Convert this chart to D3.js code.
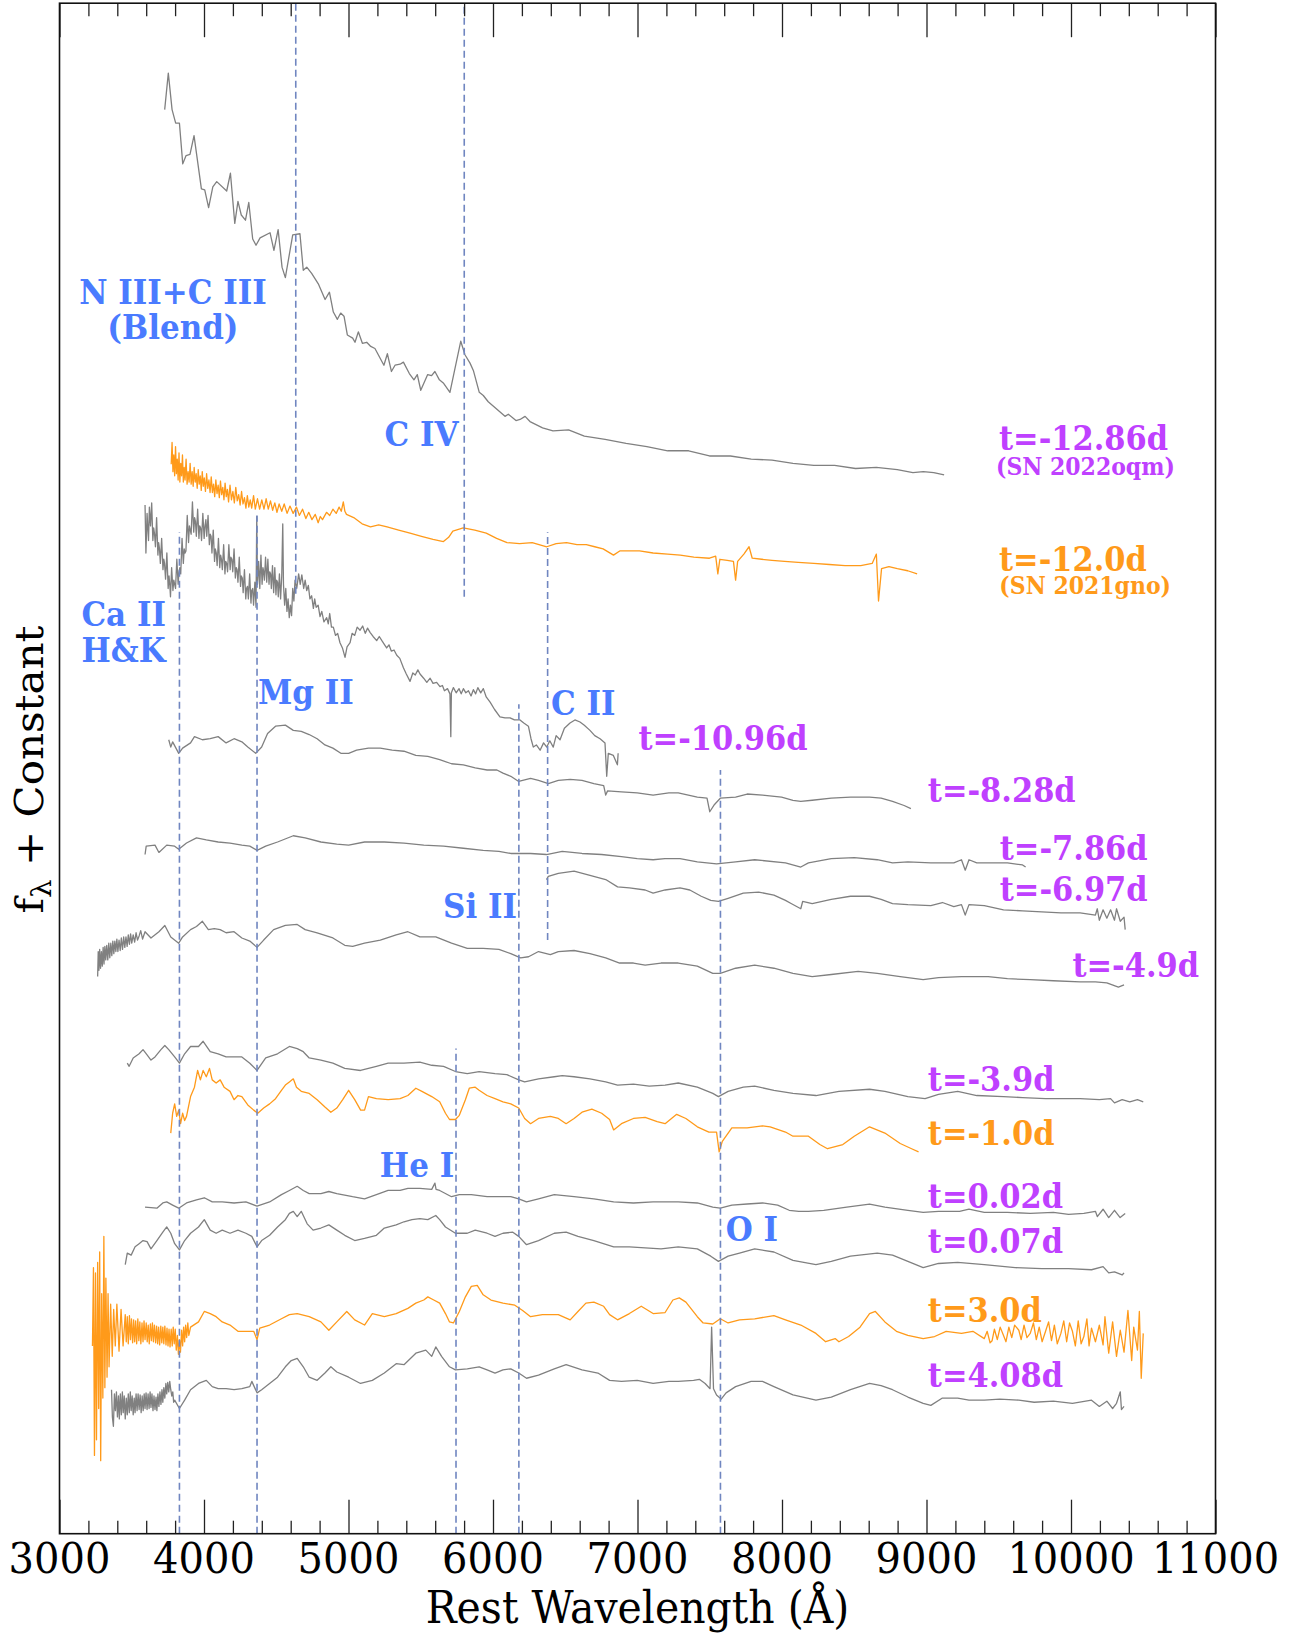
<!DOCTYPE html>
<html><head><meta charset="utf-8">
<script src="https://cdn.jsdelivr.net/npm/d3@7"></script>
<style>body{margin:0;background:#fff}svg{display:block}</style>
</head><body>
<script>
// ---------------- DATA (wavelength in Å, flux + constant in arbitrary units) ----------------
const majorTicks = [3000,4000,5000,6000,7000,8000,9000,10000,11000];
const minorTicks = [3200,3400,3600,3800,4200,4400,4600,4800,5200,5400,5600,5800,6200,6400,6600,6800,7200,7400,7600,7800,8200,8400,8600,8800,9200,9400,9600,9800,10200,10400,10600,10800];

const spec_m1286 = [[3728,136.5],[3753,140.0],[3779,136.5],[3804,135.2],[3830,135.2],[3853,131.3],[3876,132.1],[3903,132.2],[3931,134.0],[3982,128.9],[4005,128.8],[4032,127.1],[4061,129.1],[4088,129.6],[4157,128.7],[4183,130.4],[4213,125.6],[4235,127.7],[4258,126.4],[4287,125.9],[4310,127.6],[4337,124.1],[4360,123.5],[4388,124.2],[4457,124.7],[4484,123.0],[4513,125.0],[4540,121.4],[4563,120.4],[4614,124.5],[4664,124.6],[4687,121.1],[4711,121.4],[4745,120.8],[4791,119.8],[4838,118.3],[4868,119.0],[4895,117.1],[4923,116.4],[4946,117.0],[4969,116.7],[4992,114.9],[5029,114.6],[5045,114.2],[5068,115.2],[5096,114.1],[5126,114.2],[5154,113.8],[5183,113.6],[5245,112.0],[5269,113.1],[5297,111.4],[5322,112.0],[5357,112.1],[5380,112.3],[5421,111.2],[5453,110.6],[5476,111.1],[5500,109.6],[5548,111.1],[5575,111.0],[5598,111.4],[5629,110.6],[5656,110.3],[5702,109.4],[5737,111.7],[5777,114.3],[5806,113.0],[5841,112.2],[5864,111.5],[5905,109.4],[5933,109.1],[5967,108.5],[6025,107.8],[6083,107.1],[6106,107.3],[6159,106.7],[6187,106.8],[6222,107.1],[6256,106.6],[6343,106.0],[6415,105.7],[6523,105.8],[6632,105.2],[6776,104.9],[6921,104.5],[7065,104.2],[7209,103.8],[7354,103.8],[7498,103.3],[7643,103.3],[7787,103.0],[7931,102.9],[8076,102.6],[8220,102.4],[8364,102.4],[8509,102.1],[8653,102.2],[8798,102.0],[8906,101.7],[8978,101.8],[9050,101.7],[9122,101.5]];

const spec_m120 = [[3773,102.5],[3779,104.6],[3785,101.8],[3791,103.4],[3797,101.4],[3803,104.2],[3809,101.6],[3815,103.0],[3821,101.0],[3827,103.6],[3833,100.8],[3839,102.6],[3845,101.4],[3851,103.4],[3857,100.8],[3863,102.2],[3869,101.0],[3876,103.0],[3883,100.6],[3890,101.8],[3897,100.8],[3904,102.6],[3911,100.6],[3918,101.8],[3925,100.4],[3932,102.2],[3939,100.8],[3946,101.6],[3953,100.2],[3960,102.0],[3967,100.6],[3974,101.4],[3981,100.0],[3988,101.8],[3995,100.4],[4002,101.2],[4010,99.9],[4018,101.6],[4026,100.2],[4034,101.0],[4042,99.8],[4050,101.3],[4058,99.8],[4066,100.6],[4074,99.4],[4082,101.0],[4090,99.7],[4098,100.5],[4106,99.3],[4114,100.9],[4122,99.6],[4130,100.3],[4138,99.1],[4146,100.7],[4154,99.4],[4162,100.1],[4170,98.9],[4180,100.5],[4190,99.1],[4200,99.9],[4210,98.8],[4220,100.3],[4230,99.0],[4240,99.6],[4250,98.6],[4260,99.9],[4270,98.7],[4280,99.3],[4290,98.3],[4300,99.5],[4310,98.4],[4320,99.1],[4330,98.3],[4343,99.5],[4355,98.2],[4370,99.2],[4385,98.2],[4400,99.1],[4415,98.2],[4430,99.2],[4445,98.2],[4460,99.0],[4475,98.1],[4490,98.8],[4505,97.9],[4520,98.7],[4538,98.0],[4555,98.7],[4575,97.8],[4595,98.5],[4617,97.8],[4640,98.4],[4660,97.6],[4682,98.2],[4705,97.3],[4725,97.9],[4747,97.2],[4770,97.7],[4790,96.9],[4805,97.5],[4820,97.2],[4848,97.9],[4870,97.6],[4892,98.2],[4915,97.8],[4935,98.4],[4950,98.0],[4964,98.9],[4975,98.0],[4986,97.7],[5036,97.4],[5094,96.8],[5152,96.5],[5209,96.7],[5267,96.5],[5347,96.2],[5426,95.9],[5505,95.6],[5585,95.3],[5657,95.1],[5693,95.5],[5722,96.1],[5794,96.4],[5874,96.2],[5953,95.9],[6025,95.4],[6097,95.0],[6184,94.9],[6271,95.0],[6372,94.6],[6437,94.9],[6509,95.0],[6581,94.8],[6646,94.8],[6704,94.6],[6762,94.4],[6834,93.8],[6877,94.2],[6942,94.2],[7014,94.2],[7108,94.0],[7209,93.9],[7296,93.8],[7390,93.6],[7498,93.5],[7541,93.7],[7556,92.0],[7570,93.4],[7621,93.3],[7664,93.2],[7679,91.4],[7693,93.2],[7736,93.9],[7772,94.6],[7794,93.5],[7859,93.4],[7931,93.3],[8018,93.2],[8112,93.1],[8220,93.0],[8328,92.9],[8437,92.8],[8545,92.8],[8624,93.0],[8653,93.9],[8668,89.4],[8689,92.5],[8740,92.7],[8798,92.5],[8870,92.3],[8935,92.0]];

const spec_m1096 = [[3592,98.6],[3598,94.0],[3606,97.8],[3611,96.4],[3616,95.2],[3622,98.4],[3630,96.6],[3638,98.8],[3646,95.2],[3652,96.4],[3658,95.8],[3664,94.6],[3672,97.4],[3681,93.8],[3686,95.0],[3692,94.4],[3698,93.0],[3707,95.4],[3716,92.4],[3722,93.4],[3727,93.0],[3734,91.5],[3743,94.0],[3752,90.6],[3758,91.8],[3764,90.8],[3768,89.8],[3776,92.6],[3785,90.4],[3791,91.4],[3797,91.0],[3803,90.6],[3812,93.4],[3821,91.0],[3827,92.2],[3833,92.6],[3839,92.0],[3848,95.4],[3857,93.0],[3863,94.4],[3869,94.0],[3875,94.2],[3884,97.6],[3893,95.0],[3899,96.6],[3905,96.2],[3911,95.8],[3920,98.9],[3929,96.0],[3935,97.4],[3941,97.0],[3947,95.6],[3956,98.2],[3965,95.4],[3970,96.6],[3977,96.4],[3983,95.2],[3992,97.8],[4001,95.4],[4007,96.6],[4013,97.2],[4019,95.6],[4028,97.6],[4037,94.8],[4043,95.8],[4049,95.6],[4055,94.0],[4064,96.2],[4073,93.2],[4078,94.4],[4085,94.0],[4091,92.8],[4100,95.4],[4109,92.6],[4115,93.8],[4121,93.4],[4127,92.4],[4136,94.8],[4145,92.0],[4150,93.2],[4157,93.0],[4163,92.2],[4172,94.8],[4181,92.4],[4186,93.6],[4193,93.4],[4199,92.2],[4208,94.4],[4217,91.6],[4223,92.6],[4229,92.4],[4235,91.2],[4244,93.6],[4253,90.8],[4258,91.8],[4265,91.6],[4271,90.2],[4280,92.4],[4289,89.6],[4294,90.6],[4301,90.8],[4307,89.6],[4316,92.0],[4325,89.2],[4330,90.4],[4337,90.6],[4343,89.0],[4352,91.2],[4360,88.8],[4365,97.5],[4370,91.0],[4378,93.2],[4386,90.6],[4394,93.8],[4402,91.0],[4408,92.6],[4413,92.2],[4418,91.4],[4426,93.6],[4434,91.2],[4442,93.4],[4450,91.0],[4455,92.2],[4461,92.0],[4466,90.6],[4474,92.8],[4482,90.2],[4490,92.6],[4498,90.0],[4503,91.4],[4509,91.2],[4514,89.8],[4522,92.0],[4530,89.6],[4538,91.8],[4545,96.8],[4550,91.0],[4558,89.0],[4566,90.6],[4574,88.4],[4582,89.6],[4590,87.8],[4598,89.0],[4606,88.0],[4614,90.6],[4622,89.4],[4630,91.4],[4642,90.6],[4655,92.0],[4666,91.0],[4677,91.9],[4690,90.6],[4700,91.4],[4711,90.4],[4722,90.9],[4733,89.6],[4745,89.9],[4757,88.7],[4766,89.6],[4776,88.8],[4790,89.0],[4803,87.9],[4815,88.4],[4830,87.4],[4849,87.8],[4860,87.2],[4870,88.2],[4882,86.9],[4895,86.9],[4910,86.1],[4925,86.3],[4941,85.4],[4958,84.9],[4976,84.0],[4990,85.0],[5011,85.4],[5025,86.3],[5043,86.1],[5060,86.9],[5080,86.6],[5098,87.0],[5116,86.3],[5132,86.8],[5149,86.4],[5170,86.0],[5195,85.6],[5213,86.0],[5231,85.6],[5250,85.2],[5264,84.9],[5280,85.2],[5296,84.6],[5315,84.7],[5334,84.2],[5355,83.9],[5380,83.0],[5400,82.4],[5426,81.7],[5445,82.5],[5462,82.3],[5480,82.8],[5495,82.4],[5520,82.0],[5542,81.6],[5565,82.0],[5585,81.5],[5610,81.6],[5633,81.2],[5650,81.3],[5664,80.8],[5685,81.0],[5702,80.5],[5708,76.4],[5712,80.6],[5726,81.1],[5745,80.6],[5765,81.0],[5780,80.5],[5795,81.0],[5812,80.6],[5830,80.8],[5848,80.3],[5864,80.9],[5880,80.5],[5895,81.1],[5915,80.6],[5933,81.0],[5953,80.2],[5980,79.7],[6011,79.0],[6048,78.3],[6083,78.2],[6118,78.2],[6148,78.0],[6187,78.0],[6213,77.7],[6245,77.4],[6263,76.2],[6279,75.4],[6300,75.6],[6326,75.1],[6350,75.8],[6372,75.4],[6393,76.0],[6417,75.4],[6437,76.5],[6464,76.1],[6494,77.2],[6533,77.7],[6567,78.0],[6602,77.8],[6632,77.5],[6671,77.0],[6704,76.5],[6741,76.2],[6775,75.8],[6787,72.6],[6798,74.8],[6833,74.6],[6861,73.7],[6866,74.8]];

const spec_m828 = [[3756,76.1],[3770,75.4],[3783,75.9],[3825,74.8],[3852,75.3],[3907,75.8],[3934,76.4],[3989,76.1],[4043,76.2],[4098,76.4],[4153,75.8],[4208,76.2],[4262,75.9],[4303,75.4],[4358,74.8],[4399,75.4],[4440,76.7],[4495,77.4],[4563,77.5],[4618,77.0],[4673,76.9],[4728,76.6],[4783,76.2],[4837,75.6],[4892,75.3],[4947,74.8],[5001,74.8],[5056,75.1],[5138,75.3],[5220,75.3],[5302,75.1],[5384,75.0],[5466,74.6],[5549,74.5],[5631,74.2],[5713,73.8],[5795,73.7],[5877,73.4],[5959,73.2],[6027,73.2],[6069,72.9],[6123,72.6],[6178,72.1],[6260,72.4],[6315,72.2],[6383,71.9],[6452,72.2],[6534,72.3],[6616,72.2],[6698,71.9],[6766,71.7],[6780,70.8],[6793,71.2],[6889,71.1],[6998,71.0],[7108,70.8],[7217,71.0],[7282,71.0],[7414,70.6],[7481,70.5],[7500,69.2],[7533,69.9],[7573,70.5],[7679,70.6],[7759,70.9],[7865,70.8],[7997,70.6],[8076,70.3],[8130,70.2],[8209,70.3],[8341,70.5],[8474,70.6],[8606,70.6],[8686,70.5],[8765,70.2],[8845,69.8],[8892,69.5]];

const spec_m786 = [[3592,65.1],[3600,65.9],[3661,66.0],[3688,65.3],[3742,66.0],[3797,65.9],[3825,65.6],[3879,66.2],[3948,66.7],[4016,66.5],[4098,66.3],[4180,66.2],[4262,66.0],[4317,65.9],[4367,65.5],[4427,65.9],[4509,66.3],[4618,66.9],[4700,66.7],[4809,66.3],[4919,66.1],[5001,66.0],[5111,66.3],[5248,66.3],[5384,66.2],[5521,66.0],[5658,65.9],[5795,65.7],[5932,65.5],[6041,65.4],[6123,65.2],[6178,65.2],[6260,65.2],[6370,65.1],[6479,65.4],[6616,65.2],[6752,65.1],[6889,64.9],[6998,64.7],[7108,64.6],[7190,64.7],[7294,64.7],[7414,64.4],[7547,64.2],[7679,64.4],[7811,64.6],[8024,64.3],[8130,63.9],[8183,64.3],[8341,64.7],[8500,64.8],[8659,64.6],[8765,64.3],[8871,64.4],[9030,64.3],[9189,64.3],[9242,64.6],[9268,63.6],[9294,64.6],[9348,64.3],[9454,64.3],[9560,64.3],[9665,64.1],[9686,63.9]];

const spec_m697 = [[6370,62.7],[6383,63.0],[6452,63.3],[6561,63.5],[6671,63.1],[6780,62.7],[6862,62.0],[6944,61.9],[7053,61.7],[7108,61.4],[7191,61.7],[7294,61.9],[7362,61.7],[7441,61.1],[7507,60.7],[7560,60.6],[7627,60.9],[7732,61.4],[7838,61.5],[7944,61.2],[8024,60.7],[8063,60.4],[8130,59.9],[8143,60.6],[8209,60.4],[8341,60.8],[8474,61.1],[8606,61.1],[8686,60.8],[8765,60.4],[8871,60.3],[9030,60.2],[9110,60.5],[9189,60.1],[9242,60.3],[9268,59.3],[9294,60.3],[9400,60.2],[9533,59.8],[9665,59.7],[9798,59.6],[9931,59.5],[10063,59.5],[10169,59.3],[10182,59.9],[10196,58.8],[10222,59.8],[10248,59.0],[10274,59.8],[10301,58.8],[10315,59.9],[10341,58.7],[10367,59.1],[10375,57.9]];

const spec_m49 = [[3264,53.4],[3268,55.8],[3273,54.0],[3278,56.0],[3284,54.2],[3290,55.8],[3296,54.4],[3302,56.2],[3308,54.6],[3314,56.3],[3320,55.0],[3327,56.4],[3334,55.0],[3341,56.6],[3348,55.2],[3355,56.6],[3362,55.4],[3369,56.8],[3376,55.6],[3383,56.8],[3390,55.8],[3397,57.0],[3404,55.8],[3412,56.9],[3420,55.9],[3428,57.1],[3436,56.0],[3444,57.2],[3452,56.2],[3460,57.2],[3468,56.3],[3476,57.4],[3484,56.5],[3492,57.5],[3500,56.6],[3510,57.4],[3520,56.7],[3530,57.6],[3540,56.9],[3551,57.3],[3562,57.8],[3575,57.0],[3592,57.7],[3633,57.1],[3688,57.7],[3729,58.3],[3770,57.2],[3825,56.6],[3852,57.2],[3907,57.9],[3948,58.2],[3989,58.7],[4030,57.9],[4071,58.0],[4112,57.9],[4153,57.6],[4208,57.7],[4262,57.1],[4317,56.8],[4367,56.2],[4413,56.9],[4482,57.9],[4563,58.3],[4645,58.4],[4700,57.9],[4783,57.6],[4892,57.1],[4974,56.4],[5029,56.3],[5111,56.6],[5220,56.9],[5330,57.4],[5411,57.7],[5494,57.2],[5604,57.2],[5713,56.6],[5822,56.1],[5932,56.1],[6041,56.0],[6123,55.6],[6191,55.2],[6246,55.3],[6315,55.8],[6397,55.5],[6452,55.8],[6561,55.9],[6671,55.6],[6780,55.2],[6876,54.7],[6972,54.7],[7053,54.5],[7163,54.7],[7282,54.7],[7414,54.4],[7521,53.7],[7573,53.7],[7679,54.2],[7811,54.5],[7944,54.2],[8076,53.7],[8209,53.4],[8341,53.6],[8527,53.9],[8659,53.7],[8818,53.4],[8977,53.1],[9083,53.3],[9242,53.4],[9427,53.4],[9560,53.2],[9718,53.1],[9878,53.0],[10063,52.9],[10169,52.9],[10248,52.8],[10328,52.4],[10367,52.6]];

const spec_m39 = [[3469,45.1],[3482,44.8],[3510,45.6],[3551,46.0],[3578,46.4],[3606,45.9],[3633,45.4],[3661,45.7],[3702,46.4],[3729,46.8],[3756,46.4],[3797,45.7],[3830,45.1],[3866,46.0],[3907,46.7],[3962,46.7],[3994,47.2],[4043,46.2],[4098,46.0],[4153,45.7],[4208,45.7],[4262,45.7],[4317,45.1],[4367,44.4],[4427,45.6],[4509,46.0],[4591,46.7],[4645,46.5],[4687,46.2],[4728,45.6],[4809,45.4],[4892,45.1],[4974,44.6],[5083,44.4],[5193,44.8],[5274,45.1],[5384,45.1],[5494,45.2],[5576,44.9],[5658,44.8],[5740,44.3],[5822,44.1],[5904,44.3],[6014,44.1],[6096,44.0],[6178,43.5],[6219,43.3],[6315,43.6],[6424,43.8],[6479,43.9],[6561,43.8],[6671,43.6],[6780,43.3],[6862,43.0],[6972,43.1],[7081,42.9],[7191,43.0],[7282,43.2],[7414,42.8],[7521,42.2],[7560,41.9],[7627,42.4],[7732,42.8],[7811,42.9],[7944,42.5],[8076,42.2],[8235,42.0],[8394,42.4],[8606,42.6],[8712,42.4],[8871,41.9],[8990,41.7],[9083,42.1],[9216,42.4],[9348,42.0],[9533,41.9],[9665,41.8],[9824,41.7],[9930,41.7],[10063,41.7],[10196,41.6],[10274,41.7],[10301,41.3],[10354,41.6],[10407,41.4],[10460,41.6],[10500,41.4]];

const spec_m10 = [[3770,38.4],[3783,40.3],[3797,41.2],[3811,40.0],[3825,40.6],[3838,39.3],[3852,40.3],[3866,39.6],[3879,40.0],[3907,41.9],[3934,42.8],[3956,44.4],[3975,43.5],[3994,44.4],[4016,43.8],[4038,44.6],[4057,43.5],[4084,43.2],[4112,43.5],[4139,42.8],[4180,42.4],[4208,41.6],[4235,42.0],[4262,41.9],[4303,41.1],[4344,40.6],[4372,40.3],[4413,40.8],[4454,41.2],[4495,41.7],[4536,42.5],[4563,43.0],[4591,43.3],[4618,43.6],[4640,42.8],[4673,42.4],[4728,42.2],[4783,41.6],[4837,40.9],[4878,40.4],[4919,40.8],[4960,41.6],[5001,42.5],[5043,41.6],[5084,40.6],[5111,40.6],[5138,41.9],[5193,41.7],[5274,41.6],[5357,41.7],[5411,42.0],[5466,42.7],[5508,42.4],[5576,41.9],[5631,41.4],[5671,40.3],[5699,39.7],[5740,39.7],[5767,40.1],[5809,41.6],[5836,42.7],[5877,42.8],[5904,42.5],[5959,42.0],[6014,41.7],[6069,41.4],[6123,41.2],[6178,40.8],[6219,39.8],[6260,39.3],[6315,39.8],[6397,40.0],[6452,39.8],[6506,39.3],[6561,39.8],[6616,40.4],[6684,40.7],[6752,40.3],[6807,39.7],[6835,38.7],[6889,39.3],[6972,39.8],[7053,39.9],[7136,39.5],[7191,39.3],[7271,40.2],[7335,39.8],[7414,39.0],[7494,38.5],[7547,38.5],[7565,36.6],[7587,37.6],[7653,38.9],[7759,38.9],[7865,39.1],[7918,39.0],[8024,38.5],[8076,38.1],[8183,38.1],[8262,37.3],[8315,36.9],[8421,37.3],[8500,38.1],[8606,39.0],[8712,38.4],[8818,37.4],[8897,36.9],[8945,36.6]];

const spec_p002 = [[3592,31.3],[3674,31.2],[3715,31.7],[3742,31.8],[3783,31.5],[3825,31.2],[3879,31.7],[3948,32.0],[4002,32.2],[4057,31.8],[4126,31.8],[4208,31.7],[4290,31.8],[4367,31.4],[4454,31.8],[4536,32.5],[4591,32.9],[4645,33.3],[4687,32.9],[4728,32.6],[4809,32.6],[4864,32.8],[4919,32.6],[5028,32.3],[5111,32.1],[5193,32.5],[5274,32.9],[5357,32.9],[5411,33.1],[5494,33.1],[5576,33.0],[5598,33.6],[5606,33.0],[5631,32.9],[5713,32.3],[5767,32.5],[5850,32.5],[5959,32.3],[6041,32.3],[6123,32.3],[6178,32.1],[6232,31.8],[6315,32.1],[6424,32.5],[6561,32.3],[6698,32.1],[6835,31.8],[6972,31.7],[7108,31.8],[7282,31.8],[7414,31.7],[7521,31.3],[7573,31.2],[7653,31.5],[7759,31.6],[7865,31.7],[7970,31.5],[8050,31.0],[8116,30.9],[8183,30.9],[8289,31.0],[8448,31.3],[8606,31.6],[8712,31.3],[8871,31.0],[8977,30.8],[9083,30.9],[9229,30.9],[9294,31.1],[9400,30.8],[9560,30.8],[9718,30.7],[9878,30.8],[9983,30.6],[10089,30.7],[10169,30.9],[10182,30.4],[10222,31.1],[10261,30.3],[10301,31.0],[10340,30.3],[10375,30.7]];

const spec_p007 = [[3455,25.8],[3469,26.9],[3496,26.7],[3523,27.5],[3551,27.8],[3578,28.1],[3606,28.0],[3633,27.3],[3674,28.1],[3715,28.9],[3742,29.4],[3770,28.8],[3797,27.8],[3830,27.2],[3866,28.1],[3907,28.8],[3962,29.4],[4002,30.1],[4043,29.1],[4084,28.8],[4126,29.1],[4180,28.8],[4235,29.1],[4290,28.8],[4331,28.5],[4367,27.5],[4399,28.1],[4454,28.6],[4509,29.4],[4563,30.1],[4591,30.7],[4618,30.9],[4645,30.4],[4673,30.9],[4714,29.7],[4755,29.1],[4809,29.3],[4864,29.6],[4919,29.1],[4974,28.6],[5043,28.1],[5111,28.3],[5193,28.6],[5248,29.3],[5330,29.6],[5384,29.9],[5439,30.1],[5494,30.2],[5549,30.1],[5604,30.5],[5631,30.1],[5671,29.4],[5740,28.8],[5822,28.8],[5877,29.1],[5959,28.8],[6014,28.5],[6069,28.8],[6137,28.9],[6178,28.5],[6232,27.7],[6315,28.1],[6424,28.8],[6506,28.9],[6588,28.5],[6698,28.1],[6835,27.5],[6944,27.5],[7053,27.4],[7163,27.3],[7282,27.5],[7414,27.3],[7507,26.6],[7560,26.1],[7627,26.6],[7706,26.9],[7811,27.3],[7944,27.0],[8076,26.2],[8235,25.8],[8341,26.1],[8474,26.6],[8659,26.9],[8765,26.7],[8871,26.1],[8977,25.5],[9083,25.9],[9216,26.0],[9400,25.8],[9614,25.5],[9798,25.4],[9983,25.4],[10142,25.3],[10222,25.6],[10261,25.0],[10301,25.1],[10354,24.8],[10367,25.0]];

const spec_p30 = [[3228,18.0],[3235,25.5],[3242,7.5],[3249,25.0],[3256,9.0],[3264,26.0],[3271,12.0],[3278,27.0],[3285,7.0],[3292,23.0],[3300,13.0],[3307,28.5],[3314,14.0],[3321,24.5],[3329,15.0],[3336,23.0],[3343,16.0],[3354,22.0],[3365,17.0],[3375,21.5],[3386,18.0],[3397,22.0],[3412,17.5],[3426,21.5],[3440,18.0],[3455,21.0],[3462,18.4],[3469,20.8],[3476,18.2],[3484,20.9],[3491,18.6],[3498,20.6],[3506,18.3],[3513,20.5],[3520,18.4],[3527,20.4],[3534,18.2],[3542,20.6],[3549,18.5],[3556,20.3],[3563,18.2],[3571,20.2],[3578,18.4],[3585,20.4],[3592,18.6],[3600,20.2],[3607,18.4],[3614,20.0],[3621,18.2],[3629,20.1],[3636,18.5],[3643,20.2],[3650,18.4],[3657,20.0],[3665,18.3],[3672,19.9],[3679,18.2],[3686,19.8],[3693,18.1],[3701,19.9],[3708,18.3],[3715,19.8],[3722,18.2],[3729,19.9],[3737,18.1],[3744,19.7],[3751,18.0],[3758,19.6],[3765,17.9],[3773,19.6],[3780,18.0],[3787,19.8],[3794,18.2],[3801,19.6],[3808,17.6],[3816,19.0],[3823,17.2],[3830,18.6],[3837,17.4],[3845,19.5],[3852,18.0],[3859,19.8],[3866,18.4],[3873,20.0],[3880,18.8],[3888,20.2],[3895,19.0],[3907,19.8],[3962,20.3],[4002,21.3],[4043,21.1],[4084,20.8],[4126,20.3],[4180,20.0],[4235,19.4],[4290,19.4],[4344,19.4],[4367,18.6],[4386,19.7],[4454,20.0],[4536,20.6],[4591,21.0],[4645,21.1],[4728,20.8],[4809,20.3],[4864,19.5],[4919,20.3],[4988,21.3],[5043,20.5],[5111,20.0],[5165,21.1],[5248,20.8],[5330,21.1],[5411,21.6],[5466,22.1],[5521,22.4],[5549,22.7],[5590,22.4],[5631,22.1],[5671,21.1],[5699,20.3],[5726,20.2],[5767,21.3],[5809,22.7],[5850,23.7],[5891,23.8],[5932,22.9],[5986,22.4],[6069,22.1],[6151,21.9],[6205,21.4],[6260,20.8],[6342,21.0],[6452,21.0],[6534,20.5],[6588,21.3],[6643,22.1],[6698,22.2],[6766,21.8],[6807,21.0],[6862,20.5],[6944,21.1],[7026,21.8],[7108,21.1],[7191,21.2],[7245,22.4],[7289,22.6],[7335,22.2],[7414,20.8],[7454,20.2],[7521,20.1],[7573,20.6],[7627,20.2],[7706,20.5],[7811,20.6],[7944,20.9],[8024,20.5],[8130,20.0],[8235,19.2],[8302,18.4],[8368,18.7],[8394,18.4],[8461,18.9],[8540,19.8],[8606,21.1],[8646,21.3],[8712,20.3],[8792,19.4],[8871,19.0],[8977,18.7],[9056,18.9],[9136,19.4],[9242,19.2],[9321,19.4],[9400,18.7],[9420,19.4],[9440,18.3],[9454,18.5],[9470,19.6],[9490,18.6],[9510,19.8],[9533,19.0],[9550,18.4],[9570,19.8],[9590,18.8],[9610,20.0],[9639,19.5],[9655,18.6],[9675,20.0],[9695,18.8],[9718,19.2],[9740,20.2],[9760,18.6],[9780,19.8],[9800,18.4],[9824,19.4],[9845,20.3],[9865,18.5],[9885,20.0],[9905,18.2],[9930,19.2],[9950,20.4],[9970,18.4],[9990,20.2],[10010,19.4],[10030,18.0],[10050,20.4],[10070,18.2],[10089,18.9],[10110,20.6],[10125,18.0],[10142,19.7],[10169,18.4],[10196,20.0],[10222,18.1],[10235,20.8],[10261,17.3],[10288,20.3],[10315,17.0],[10341,19.5],[10367,17.4],[10394,21.4],[10420,16.6],[10434,19.8],[10460,17.6],[10473,21.3],[10486,14.9],[10500,19.2]];

const spec_p408 = [[3360,13.8],[3366,11.2],[3373,10.3],[3380,13.4],[3387,11.8],[3394,13.6],[3401,11.2],[3408,13.2],[3414,11.0],[3421,13.4],[3428,11.4],[3435,13.6],[3441,11.6],[3448,13.2],[3455,11.0],[3462,13.0],[3469,11.4],[3476,13.4],[3483,11.6],[3490,13.6],[3496,11.8],[3503,13.2],[3510,11.4],[3517,13.0],[3523,11.6],[3530,13.4],[3537,11.8],[3544,13.4],[3551,11.9],[3558,13.3],[3565,11.6],[3572,13.2],[3579,11.8],[3586,13.4],[3592,12.0],[3599,13.5],[3606,11.9],[3613,13.4],[3620,12.0],[3627,13.6],[3633,12.1],[3640,13.4],[3647,11.8],[3654,13.2],[3661,11.9],[3668,13.1],[3674,11.8],[3681,13.4],[3688,12.2],[3695,13.6],[3702,12.4],[3709,13.8],[3715,12.6],[3722,14.0],[3729,13.0],[3736,14.4],[3742,13.4],[3749,14.5],[3756,13.6],[3763,14.6],[3770,13.8],[3777,13.2],[3784,13.6],[3790,12.6],[3797,12.8],[3830,12.0],[3866,12.8],[3907,13.8],[3962,14.4],[4016,14.7],[4057,14.1],[4098,13.9],[4153,13.9],[4208,13.8],[4262,13.9],[4317,14.1],[4331,14.6],[4367,13.5],[4399,13.8],[4454,14.4],[4509,15.0],[4563,16.0],[4604,16.6],[4645,16.8],[4687,16.0],[4728,15.0],[4783,14.7],[4837,15.4],[4878,16.0],[4919,15.5],[5001,15.0],[5083,14.4],[5165,14.7],[5248,15.4],[5330,16.3],[5384,16.2],[5466,17.3],[5535,17.6],[5576,17.0],[5604,17.9],[5644,17.0],[5699,16.0],[5740,15.7],[5822,15.8],[5904,16.0],[5959,15.7],[6014,15.4],[6069,15.7],[6123,15.8],[6178,15.4],[6232,14.9],[6315,15.2],[6424,15.8],[6506,16.2],[6616,15.7],[6726,15.4],[6807,14.7],[6889,14.6],[6998,14.7],[7108,14.4],[7217,14.6],[7282,14.6],[7388,14.7],[7428,14.8],[7468,14.4],[7502,13.9],[7513,19.8],[7526,13.9],[7547,13.3],[7579,12.9],[7613,13.5],[7679,14.1],[7786,14.6],[7865,14.6],[7944,14.1],[8076,13.3],[8235,12.8],[8341,13.1],[8474,13.8],[8606,14.4],[8686,14.2],[8765,13.8],[8871,13.1],[8977,12.5],[9030,12.3],[9110,13.0],[9216,13.0],[9294,12.8],[9400,12.8],[9507,12.9],[9639,12.8],[9745,12.6],[9878,12.7],[10010,12.5],[10142,12.8],[10196,12.2],[10248,12.7],[10288,12.0],[10315,12.5],[10341,13.6],[10349,11.9],[10367,12.2]];

// series list: [data, colour group]
const spectra = [
  [spec_m1286, "gray"], [spec_m120, "orange"], [spec_m1096, "gray"], [spec_m828, "gray"],
  [spec_m786, "gray"], [spec_m697, "gray"], [spec_m49, "gray"], [spec_m39, "gray"],
  [spec_m10, "orange"], [spec_p002, "gray"], [spec_p007, "gray"], [spec_p30, "orange"], [spec_p408, "gray"]
];

// identified lines: wavelength, flux from, flux to
const lineWaves = [3830, 4367, 4635, 5744, 5801, 6179, 6378, 7574];
const lineFrom  = [0, 0, 90.1, 0, 89.8, 0, 56.9, 0];
const lineTo    = [96.0, 97.6, 146.7, 46.5, 146.7, 79.5, 96.0, 73.2];

// line-name labels (centre wavelength, baseline flux)
const ionText = ["N III+C III", "(Blend)", "C IV", "Ca II", "H&K", "Mg II", "C II", "Si II", "He I", "O I"];
const ionWave = [3785, 3785, 5505, 3444, 3444, 4705, 6625, 5910, 5474, 7792];
const ionFlux = [117.9, 114.5, 104.3, 87.0, 83.6, 79.5, 78.5, 59.0, 34.2, 28.1];

// phase labels (left wavelength, baseline flux, colour group)
const phaseText = ["t=-12.86d", "t=-12.0d", "t=-10.96d", "t=-8.28d", "t=-7.86d", "t=-6.97d", "t=-4.9d", "t=-3.9d", "t=-1.0d", "t=0.02d", "t=0.07d", "t=3.0d", "t=4.08d"];
const phaseWave = [9502, 9502, 7007, 9009, 9507, 9507, 10010, 9009, 9009, 9009, 9009, 9009, 9009];
const phaseFlux = [103.9, 92.3, 75.1, 70.1, 64.6, 60.6, 53.4, 42.4, 37.3, 31.2, 26.9, 20.3, 14.1];
const phaseGroup = ["purple", "orange", "purple", "purple", "purple", "purple", "purple", "purple", "orange", "purple", "purple", "orange", "purple"];

const snText = ["(SN 2022oqm)", "(SN 2021gno)"];
const snWave = [10100, 10098];
const snFlux = [101.5, 90.1];
const snGroup = ["purple", "orange"];

// ---------------- DRAWING ----------------
const W = 1301, H = 1636;
const L = 59.5, R = 1215.5, T = 3.2, B = 1533.7;
const colors = {gray: "#808080", orange: "#ff9a1a", purple: "#bf40ff", blue: "#4a7bff", dash: "#7086c0"};
const FONT = "'DejaVu Serif', serif";
const STRETCH = 1.08;

const svg = d3.select("body").append("svg").attr("width", W).attr("height", H)
  .attr("font-family", FONT);

const x = d3.scaleLinear().domain([3000, 11000]).range([L, R]);
const y = d3.scaleLinear().domain([0, 146.7]).range([B, T]);

const line = d3.line().x(d => x(d[0])).y(d => y(d[1]));

const gSpec = svg.append("g");
spectra.forEach(([data, grp]) => {
  gSpec.append("path").datum(data)
    .attr("d", line)
    .attr("fill", "none")
    .attr("stroke", colors[grp])
    .attr("stroke-width", 1.3)
    .attr("stroke-linejoin", "round");
});

const gLines = svg.append("g");
lineWaves.forEach((w, i) => {
  gLines.append("line")
    .attr("x1", x(w)).attr("x2", x(w))
    .attr("y1", y(lineFrom[i])).attr("y2", y(lineTo[i]))
    .attr("stroke", colors.dash).attr("stroke-width", 1.6)
    .attr("stroke-dasharray", "7,4");
});

function addText(px, py, txt, opt) {
  return svg.append("text")
    .attr("transform", `translate(${px},${py}) scale(1,${STRETCH})`)
    .attr("text-anchor", opt.anchor || "start")
    .attr("font-size", opt.size)
    .attr("font-weight", opt.weight || "normal")
    .attr("fill", opt.fill || "#000")
    .text(txt);
}

ionText.forEach((t, i) => addText(x(ionWave[i]), y(ionFlux[i]), t, {anchor: "middle", size: 31, weight: "bold", fill: colors.blue}));
phaseText.forEach((t, i) => addText(x(phaseWave[i]), y(phaseFlux[i]), t, {anchor: "start", size: 30.5, weight: "bold", fill: colors[phaseGroup[i]]}));
snText.forEach((t, i) => addText(x(snWave[i]), y(snFlux[i]), t, {anchor: "middle", size: 22, weight: "bold", fill: colors[snGroup[i]]}));

// axes
const axG = svg.append("g");
axG.append("g").attr("transform", `translate(0,${B})`)
  .call(d3.axisBottom(x).tickValues(majorTicks).tickSize(-34).tickFormat(""));
axG.append("g").attr("transform", `translate(0,${B})`)
  .call(d3.axisBottom(x).tickValues(minorTicks).tickSize(-13).tickFormat(""));
axG.append("g").attr("transform", `translate(0,${T})`)
  .call(d3.axisTop(x).tickValues(majorTicks).tickSize(-34).tickFormat(""));
axG.append("g").attr("transform", `translate(0,${T})`)
  .call(d3.axisTop(x).tickValues(minorTicks).tickSize(-13).tickFormat(""));
axG.selectAll(".domain").remove();
axG.selectAll(".tick line").attr("stroke", "#222").attr("stroke-width", 1.3);

svg.append("rect").attr("x", L).attr("y", T).attr("width", R - L).attr("height", B - T)
  .attr("fill", "none").attr("stroke", "#111").attr("stroke-width", 1.6);

majorTicks.forEach(v => addText(x(v), 1573, String(v), {anchor: "middle", size: 40}));
addText((L + R) / 2, 1623, "Rest Wavelength (Å)", {anchor: "middle", size: 41});

const yl = svg.append("text")
  .attr("transform", `translate(43,${(629 + 910) / 2}) rotate(-90) scale(1.05,1)`)
  .attr("text-anchor", "middle").attr("font-size", 40);
yl.append("tspan").text("f");
yl.append("tspan").attr("font-size", 28).attr("dy", 8).text("λ");
yl.append("tspan").attr("dy", -8).text(" + Constant");
</script>
</body></html>
